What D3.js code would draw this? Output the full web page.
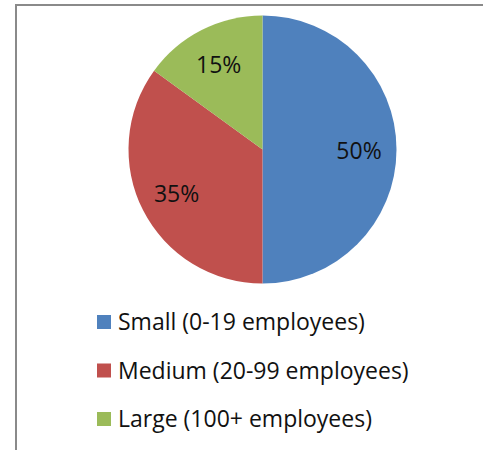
<!DOCTYPE html>
<html>
<head>
<meta charset="utf-8">
<script src="https://cdn.jsdelivr.net/npm/d3@7"></script>
<style>
  html, body { margin: 0; padding: 0; background: #fff; }
  svg { display: block; }
</style>
</head>
<body>
<svg id="chart" width="483" height="450"></svg>
<script>
// Firm size shares
const categories = ["Small (0-19 employees)", "Medium (20-99 employees)", "Large (100+ employees)"];
const shares = [50, 35, 15];
const sliceLabels = ["50%", "35%", "15%"];
const colors = ["#4F81BD", "#C0504D", "#9BBB59"];

const svg = d3.select("#chart");
const font = "'Open Sans', 'Liberation Sans', sans-serif";

// Chart area frame (runs off the right and bottom edges)
svg.append("path")
  .attr("d", "M16,450 L16,5 L483,5")
  .attr("fill", "none")
  .attr("stroke", "#8a8a8a")
  .attr("stroke-width", 2);

const cx = 262.5, cy = 149.5, r = 134;

const pie = d3.pie().sort(null).value(d => d.v);
const arcs = pie(categories.map((c, i) => ({ c, v: shares[i], i })));
const arc = d3.arc().innerRadius(0).outerRadius(r);
const labelArc = d3.arc().innerRadius(r * 0.72).outerRadius(r * 0.72);

const g = svg.append("g").attr("transform", `translate(${cx},${cy})`);

g.selectAll("path.slice")
  .data(arcs)
  .join("path")
  .attr("class", "slice")
  .attr("d", arc)
  .attr("fill", d => colors[d.data.i]);

g.selectAll("text.pct")
  .data(arcs)
  .join("text")
  .attr("class", "pct")
  .attr("transform", d => `translate(${labelArc.centroid(d)})`)
  .attr("text-anchor", "middle")
  .attr("dominant-baseline", "central")
  .attr("font-family", font)
  .attr("font-size", 23)
  .attr("fill", "#111")
  .text(d => sliceLabels[d.data.i]);

// Legend
const legendY = d3.scalePoint().domain(categories).range([321, 418]);
const lg = svg.append("g");
const rows = lg.selectAll("g.row")
  .data(categories)
  .join("g")
  .attr("class", "row")
  .attr("transform", d => `translate(97,${legendY(d)})`);

rows.append("rect")
  .attr("x", 0).attr("y", -6)
  .attr("width", 14).attr("height", 14)
  .attr("fill", (d, i) => colors[i]);

rows.append("text")
  .attr("x", 21)
  .attr("y", 0)
  .attr("dominant-baseline", "central")
  .attr("font-family", font)
  .attr("font-size", 23)
  .attr("fill", "#111")
  .text(d => d);
</script>
</body>
</html>
